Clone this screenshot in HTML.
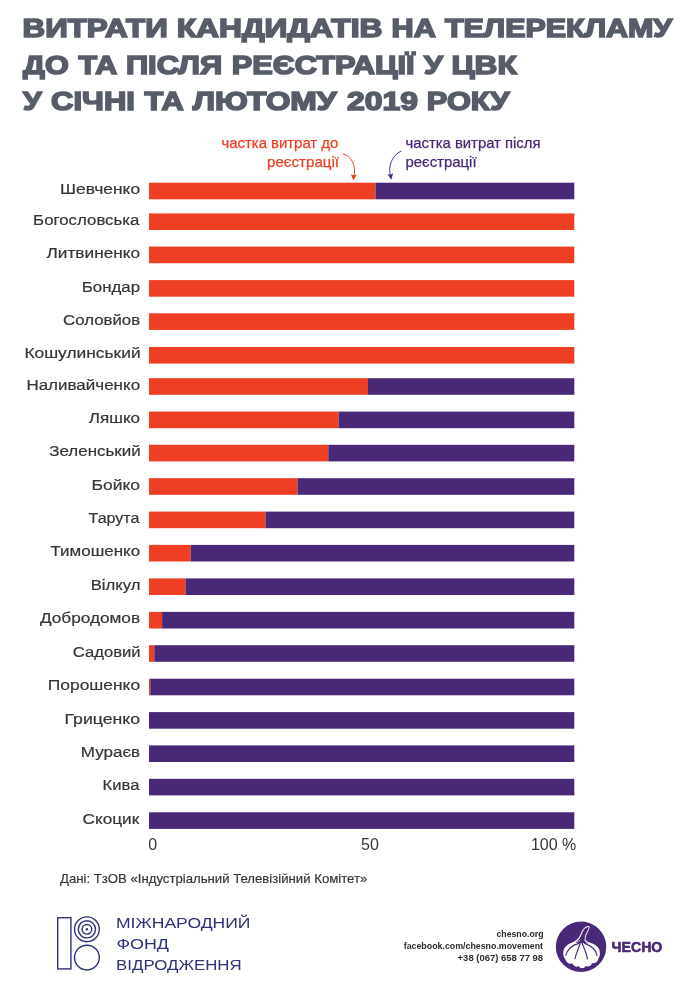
<!DOCTYPE html>
<html lang="uk"><head><meta charset="utf-8"><title>Витрати кандидатів на телерекламу</title>
<style>html,body{margin:0;padding:0;background:#fff}svg{display:block}text{font-family:"Liberation Sans",sans-serif}</style>
</head><body>
<svg width="690" height="982" viewBox="0 0 690 982">
<rect width="690" height="982" fill="#fff"/>
<g fill="#575c69" stroke="#575c69" stroke-width="1.6" font-weight="bold" font-size="26.6">
<text x="22.5" y="37.1" textLength="145.2" lengthAdjust="spacingAndGlyphs">ВИТРАТИ</text>
<text x="176.7" y="37.1" textLength="205.8" lengthAdjust="spacingAndGlyphs">КАНДИДАТІВ</text>
<text x="391.5" y="37.1" textLength="44.3" lengthAdjust="spacingAndGlyphs">НА</text>
<text x="444.9" y="37.1" textLength="227.4" lengthAdjust="spacingAndGlyphs">ТЕЛЕРЕКЛАМУ</text>
<text x="23.1" y="73.6" textLength="45.6" lengthAdjust="spacingAndGlyphs">ДО</text>
<text x="78.5" y="73.6" textLength="38.6" lengthAdjust="spacingAndGlyphs">ТА</text>
<text x="125.9" y="73.6" textLength="96.3" lengthAdjust="spacingAndGlyphs">ПІСЛЯ</text>
<text x="231.8" y="73.6" textLength="182.7" lengthAdjust="spacingAndGlyphs">РЕЄСТРАЦІЇ</text>
<text x="424.1" y="73.6" textLength="18.8" lengthAdjust="spacingAndGlyphs">У</text>
<text x="451.5" y="73.6" textLength="65.2" lengthAdjust="spacingAndGlyphs">ЦВК</text>
<text x="23.0" y="110.2" textLength="18.6" lengthAdjust="spacingAndGlyphs">У</text>
<text x="51.1" y="110.2" textLength="83.8" lengthAdjust="spacingAndGlyphs">СІЧНІ</text>
<text x="144.6" y="110.2" textLength="39.0" lengthAdjust="spacingAndGlyphs">ТА</text>
<text x="192.8" y="110.2" textLength="143.8" lengthAdjust="spacingAndGlyphs">ЛЮТОМУ</text>
<text x="346.9" y="110.2" textLength="71.0" lengthAdjust="spacingAndGlyphs">2019</text>
<text x="426.8" y="110.2" textLength="82.6" lengthAdjust="spacingAndGlyphs">РОКУ</text>
</g>
<g font-size="14.8" fill="#ee3e23" stroke="#ee3e23" stroke-width="0.25">
<text x="221.5" y="147.9" textLength="116.8" lengthAdjust="spacingAndGlyphs">частка витрат до</text>
<text x="267.0" y="167.0" textLength="72.0" lengthAdjust="spacingAndGlyphs">реєстрації</text>
</g>
<g font-size="14.8" fill="#4a2878" stroke="#4a2878" stroke-width="0.25">
<text x="405.5" y="147.9" textLength="135.0" lengthAdjust="spacingAndGlyphs">частка витрат після</text>
<text x="405.4" y="167.0" textLength="71.2" lengthAdjust="spacingAndGlyphs">реєстрації</text>
</g>
<g fill="none" stroke-width="0.95" stroke-linecap="round">
<path d="M342.9 153.9 C350.5 155.5 357.5 165 353.6 177.5" stroke="#ee3e23"/>
<path d="M400.9 151.2 C392.5 155 387 166 390.8 177" stroke="#4a2878"/>
</g>
<path d="M353.3 180.3 L350.8 174.3 Q353.6 176.2 357 174.5 Z" fill="#ee3e23"/>
<path d="M391.3 179.7 L387.4 173.9 Q390.4 175.6 393.1 173.2 Z" fill="#4a2878"/>
<g shape-rendering="auto">
<rect x="149.0" y="182.7" width="226.5" height="16.6" fill="#ee3e23"/>
<rect x="375.5" y="182.7" width="198.8" height="16.6" fill="#4a2878"/>
<rect x="149.0" y="213.4" width="425.3" height="16.6" fill="#ee3e23"/>
<rect x="149.0" y="246.6" width="425.3" height="16.6" fill="#ee3e23"/>
<rect x="149.0" y="280.1" width="425.3" height="16.6" fill="#ee3e23"/>
<rect x="149.0" y="313.3" width="425.3" height="16.6" fill="#ee3e23"/>
<rect x="149.0" y="347.0" width="425.3" height="16.6" fill="#ee3e23"/>
<rect x="149.0" y="378.2" width="219.0" height="16.6" fill="#ee3e23"/>
<rect x="368.0" y="378.2" width="206.3" height="16.6" fill="#4a2878"/>
<rect x="149.0" y="411.6" width="189.6" height="16.6" fill="#ee3e23"/>
<rect x="338.6" y="411.6" width="235.7" height="16.6" fill="#4a2878"/>
<rect x="149.0" y="444.8" width="179.3" height="16.6" fill="#ee3e23"/>
<rect x="328.3" y="444.8" width="246.0" height="16.6" fill="#4a2878"/>
<rect x="149.0" y="478.2" width="148.5" height="16.6" fill="#ee3e23"/>
<rect x="297.5" y="478.2" width="276.8" height="16.6" fill="#4a2878"/>
<rect x="149.0" y="511.6" width="116.5" height="16.6" fill="#ee3e23"/>
<rect x="265.5" y="511.6" width="308.8" height="16.6" fill="#4a2878"/>
<rect x="149.0" y="544.9" width="41.7" height="16.6" fill="#ee3e23"/>
<rect x="190.7" y="544.9" width="383.6" height="16.6" fill="#4a2878"/>
<rect x="149.0" y="578.4" width="36.5" height="16.6" fill="#ee3e23"/>
<rect x="185.5" y="578.4" width="388.8" height="16.6" fill="#4a2878"/>
<rect x="149.0" y="611.9" width="13.1" height="16.6" fill="#ee3e23"/>
<rect x="162.1" y="611.9" width="412.2" height="16.6" fill="#4a2878"/>
<rect x="149.0" y="645.2" width="5.3" height="16.6" fill="#ee3e23"/>
<rect x="154.3" y="645.2" width="420.0" height="16.6" fill="#4a2878"/>
<rect x="149.0" y="678.7" width="1.3" height="16.6" fill="#ee3e23"/>
<rect x="150.3" y="678.7" width="424.0" height="16.6" fill="#4a2878"/>
<rect x="149.0" y="712.1" width="425.3" height="16.6" fill="#4a2878"/>
<rect x="149.0" y="745.4" width="425.3" height="16.6" fill="#4a2878"/>
<rect x="149.0" y="778.8" width="425.3" height="16.6" fill="#4a2878"/>
<rect x="149.0" y="812.3" width="425.3" height="16.6" fill="#4a2878"/>
</g>
<g font-size="15.5" fill="#363636" stroke="#363636" stroke-width="0.2">
<text x="60.1" y="194.1" textLength="80.0" lengthAdjust="spacingAndGlyphs">Шевченко</text>
<text x="33.1" y="224.8" textLength="106.3" lengthAdjust="spacingAndGlyphs">Богословська</text>
<text x="46.5" y="258.0" textLength="93.6" lengthAdjust="spacingAndGlyphs">Литвиненко</text>
<text x="81.8" y="291.5" textLength="58.3" lengthAdjust="spacingAndGlyphs">Бондар</text>
<text x="63.1" y="324.7" textLength="77.0" lengthAdjust="spacingAndGlyphs">Соловйов</text>
<text x="24.4" y="358.4" textLength="116.2" lengthAdjust="spacingAndGlyphs">Кошулинський</text>
<text x="26.4" y="389.6" textLength="113.7" lengthAdjust="spacingAndGlyphs">Наливайченко</text>
<text x="88.8" y="423.0" textLength="51.3" lengthAdjust="spacingAndGlyphs">Ляшко</text>
<text x="49.3" y="456.2" textLength="91.3" lengthAdjust="spacingAndGlyphs">Зеленський</text>
<text x="91.6" y="489.6" textLength="48.5" lengthAdjust="spacingAndGlyphs">Бойко</text>
<text x="88.6" y="523.0" textLength="50.8" lengthAdjust="spacingAndGlyphs">Тарута</text>
<text x="50.5" y="556.3" textLength="89.6" lengthAdjust="spacingAndGlyphs">Тимошенко</text>
<text x="90.7" y="589.8" textLength="49.9" lengthAdjust="spacingAndGlyphs">Вілкул</text>
<text x="39.9" y="623.3" textLength="100.2" lengthAdjust="spacingAndGlyphs">Добродомов</text>
<text x="72.8" y="656.6" textLength="67.8" lengthAdjust="spacingAndGlyphs">Садовий</text>
<text x="47.8" y="690.1" textLength="92.3" lengthAdjust="spacingAndGlyphs">Порошенко</text>
<text x="64.5" y="723.5" textLength="75.6" lengthAdjust="spacingAndGlyphs">Гриценко</text>
<text x="80.8" y="756.8" textLength="59.3" lengthAdjust="spacingAndGlyphs">Мураєв</text>
<text x="102.5" y="790.2" textLength="36.9" lengthAdjust="spacingAndGlyphs">Кива</text>
<text x="82.5" y="823.7" textLength="56.7" lengthAdjust="spacingAndGlyphs">Скоцик</text>
</g>
<g font-size="16" fill="#363636">
<text x="148.3" y="850.3">0</text>
<text x="370" y="850.3" text-anchor="middle">50</text>
<text x="576.3" y="850.3" text-anchor="end">100 %</text>
</g>
<text x="60.0" y="882.5" font-size="13.2" fill="#363636" stroke="#363636" stroke-width="0.2" textLength="307.3" lengthAdjust="spacingAndGlyphs">Дані: ТзОВ «Індустріальний Телевізійний Комітет»</text>
<g fill="none" stroke="#2e3378" stroke-width="1.4">
<rect x="57.7" y="917.7" width="13.2" height="51.2"/>
<circle cx="86.9" cy="929.3" r="12.4"/>
<circle cx="86.9" cy="929.3" r="8.6"/>
<circle cx="86.9" cy="929.3" r="4.8"/>
<circle cx="86.9" cy="957.6" r="12.4"/>
</g>
<circle cx="86.9" cy="929.3" r="1.2" fill="#2e3378"/>
<g font-size="14.8" fill="#2e3378">
<text x="116.0" y="927.8" textLength="134.5" lengthAdjust="spacingAndGlyphs">МІЖНАРОДНИЙ</text>
<text x="116.4" y="948.7" textLength="52.5" lengthAdjust="spacingAndGlyphs">ФОНД</text>
<text x="116.1" y="969.8" textLength="125.6" lengthAdjust="spacingAndGlyphs">ВІДРОДЖЕННЯ</text>
</g>
<g font-size="8.9" font-weight="bold" fill="#2b2b2b">
<text x="496.5" y="937.3" textLength="47.0" lengthAdjust="spacingAndGlyphs">chesno.org</text>
<text x="403.7" y="949.1" textLength="139.3" lengthAdjust="spacingAndGlyphs">facebook.com/chesno.movement</text>
<text x="457.6" y="960.8" textLength="85.5" lengthAdjust="spacingAndGlyphs">+38 (067) 658 77 98</text>
</g>
<circle cx="581.05" cy="946.75" r="25.2" fill="#4a2878"/>
<g transform="translate(560 922) scale(0.06377)">
<path d="M200 318 C150 335 95 365 65 420 C40 470 45 540 85 590 C103 638 150 672 190 648 C215 700 265 716 292 690 C320 736 378 736 402 690 C440 708 488 690 502 645 C548 656 592 625 600 580 C635 530 635 460 605 410 C575 365 520 340 470 325 C430 315 395 290 400 250 C405 200 450 140 465 85 C468 62 445 58 425 66 C385 80 355 110 335 160 C315 215 290 270 200 318 Z" fill="#fff"/>
<path d="M232 322 C300 285 327 228 349 168 C367 118 394 95 430 82 C447 76 452 82 450 92 C438 142 390 200 386 250 C383 288 408 314 448 332 C420 345 395 335 380 330 L345 335 L322 318 L295 332 C275 335 250 330 232 322 Z" fill="#4a2878"/>
<g fill="none" stroke="#fff" stroke-width="11" stroke-linecap="round">
<path d="M205 328 C250 325 285 310 312 285"/>
<path d="M465 332 C430 330 400 315 385 290"/>
</g>
<g fill="none" stroke="#4a2878" stroke-width="18" stroke-linecap="round">
<path d="M325 310 C300 400 255 480 235 575"/>
<path d="M345 325 C370 400 415 480 430 580"/>
<path d="M300 335 C220 355 120 400 92 525"/>
<path d="M385 335 C470 365 560 420 580 525"/>
</g>
</g>
<text x="611.5" y="951.5" font-size="15.0" font-weight="bold" fill="#4a2878" stroke="#4a2878" stroke-width="0.6" textLength="50.9" lengthAdjust="spacingAndGlyphs">ЧЕСНО</text>
</svg>
</body></html>
